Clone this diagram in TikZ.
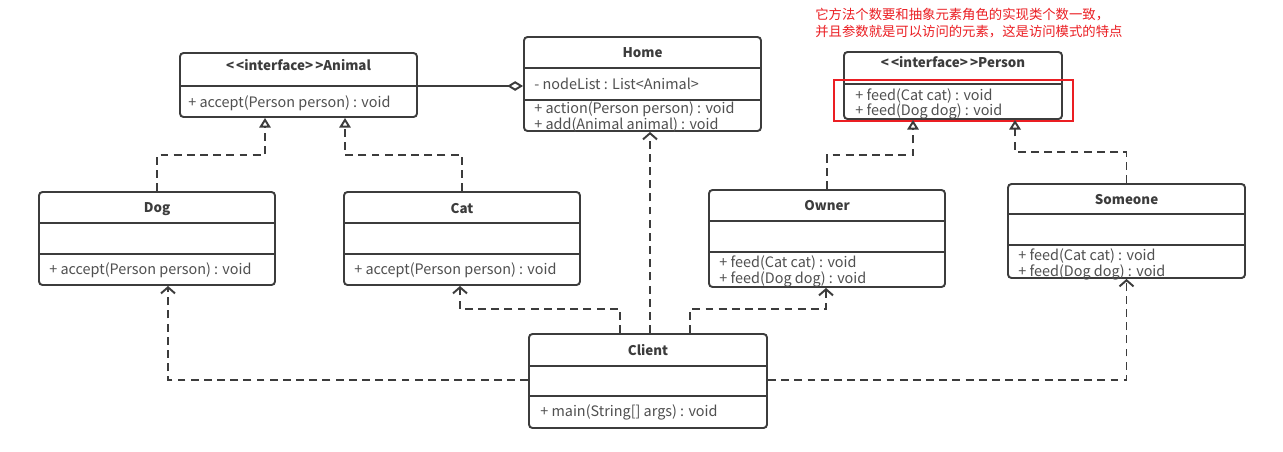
\documentclass[tikz,border=0pt]{standalone}
\usepackage{fontspec}
\setmainfont{Noto Sans CJK SC}
\usetikzlibrary{arrows.meta,fit}
\definecolor{umlline}{RGB}{60,60,60}
\definecolor{umltext}{RGB}{80,80,80}
\definecolor{notered}{RGB}{235,30,35}
\newcommand{\lt}{\char`\<\kern1.2pt}
\newcommand{\gt}{\kern1.2pt\char`\>}

\begin{document}
\begin{tikzpicture}[x=0.02cm,y=-0.02cm,
  cls/.style={draw=umlline,line width=1.1pt,rounded corners=2pt,inner sep=0pt},
  title/.style={font=\fontsize{7.6}{9}\selectfont\bfseries,text=umlline},
  member/.style={font=\fontsize{8.2}{9}\selectfont,text=umltext,anchor=west,inner sep=0pt},
  sep/.style={draw=umlline,line width=1.1pt},
  real/.style={draw=umlline,line width=1.1pt,dash pattern=on 4.5pt off 3pt,-{Triangle[open,length=5.5pt,width=6.5pt]}},
  dep/.style={draw=umlline,line width=1.1pt,dash pattern=on 4.5pt off 3pt,-{Straight Barb[length=3.5pt,width=8pt]}},
  agg/.style={draw=umlline,line width=1.1pt,-{Diamond[open,length=9pt,width=5.5pt]}},
  note/.style={font=\fontsize{7.6}{9}\selectfont,text=notered,anchor=west,inner sep=0pt}]
\useasboundingbox[fill=white] (0,0) rectangle (1283,451);

% classes
\node[cls,fit={(180,53) (417,117)}] (animal) {};
\draw[sep] (animal.west |- 0,86) -- (animal.east |- 0,86);
\node[title] (animalT) at (298.5,65) {\lt\char`\<interface\char`\>\gt Animal};
\node[member] (animalM) at (188,103) {+ accept(Person person) : void};

\node[cls,fit={(524,37) (761,131)}] (home) {};
\draw[sep] (home.west |- 0,68) -- (home.east |- 0,68);
\draw[sep] (home.west |- 0,100) -- (home.east |- 0,100);
\node[title] (homeT) at (642.5,53) {Home};
\node[member] (homeA) at (534,84) {- nodeList : List\char`\<Animal\char`\>};
\node[member] (homeM1) at (534,109) {+ action(Person person) : void};
\node[member] (homeM2) at (534,125) {+ add(Animal animal) : void};

\node[cls,fit={(844,52) (1062,119)}] (person) {};
\draw[sep] (person.west |- 0,84) -- (person.east |- 0,84);
\node[title] (personT) at (953,62) {\lt\char`\<interface\char`\>\gt Person};
\node[member] (personM1) at (855,96) {+ feed(Cat cat) : void};
\node[member] (personM2) at (855,111) {+ feed(Dog dog) : void};

\node[cls,fit={(39,192) (275,285)}] (dog) {};
\draw[sep] (dog.west |- 0,223) -- (dog.east |- 0,223);
\draw[sep] (dog.west |- 0,254) -- (dog.east |- 0,254);
\node[title] (dogT) at (157,209) {Dog};
\node[member] (dogM) at (49,270) {+ accept(Person person) : void};

\node[cls,fit={(344,192) (580,285)}] (cat) {};
\draw[sep] (cat.west |- 0,223) -- (cat.east |- 0,223);
\draw[sep] (cat.west |- 0,254) -- (cat.east |- 0,254);
\node[title] (catT) at (462,209) {Cat};
\node[member] (catM) at (354,270) {+ accept(Person person) : void};

\node[cls,fit={(709,190) (945,287)}] (owner) {};
\draw[sep] (owner.west |- 0,221) -- (owner.east |- 0,221);
\draw[sep] (owner.west |- 0,252) -- (owner.east |- 0,252);
\node[title] (ownerT) at (827,206) {Owner};
\node[member] (ownerM1) at (719,263) {+ feed(Cat cat) : void};
\node[member] (ownerM2) at (719,279) {+ feed(Dog dog) : void};

\node[cls,fit={(1008,184) (1245,278)}] (someone) {};
\draw[sep] (someone.west |- 0,214) -- (someone.east |- 0,214);
\draw[sep] (someone.west |- 0,245) -- (someone.east |- 0,245);
\node[title] (someoneT) at (1126.5,200) {Someone};
\node[member] (someoneM1) at (1018,256) {+ feed(Cat cat) : void};
\node[member] (someoneM2) at (1018,272) {+ feed(Dog dog) : void};

\node[cls,fit={(529,334) (767,428)}] (client) {};
\draw[sep] (client.west |- 0,366) -- (client.east |- 0,366);
\draw[sep] (client.west |- 0,396) -- (client.east |- 0,396);
\node[title] (clientT) at (648,350) {Client};
\node[member] (clientM) at (540,412) {+ main(String[] args) : void};

% note
\node[draw=notered,line width=1.6pt,inner sep=0pt,fit={(834,80) (1073,121)}] (hl) {};
\node[note] (note1) at (815,15) {它方法个数要和抽象元素角色的实现类个数一致，};
\node[note] (note2) at (815,32) {并且参数就是可以访问的元素，这是访问模式的特点};

% relations
\draw[agg] (animal.east |- 0,86) -- (home.west |- 0,86);
\draw[real] (dog.north) |- (265,155) -- (animal.south -| 265,0);
\draw[real] (cat.north) |- (345,155) -- (animal.south -| 345,0);
\draw[real] (owner.north) |- (913,155) -- (person.south -| 913,0);
\draw[real] (someone.north) |- (1015,152) -- (person.south -| 1015,0);
\draw[dep] (client.west |- 0,380) -| (dog.south -| 168,0);
\draw[dep] (client.east |- 0,380) -| (someone.south);
\draw[dep] (client.north -| 620,0) |- (460,309) -- (cat.south -| 460,0);
\draw[dep] (client.north -| 650,0) -- (home.south -| 650,0);
\draw[dep] (client.north -| 690,0) |- (826,309) -- (owner.south -| 826,0);
\end{tikzpicture}
\end{document}
